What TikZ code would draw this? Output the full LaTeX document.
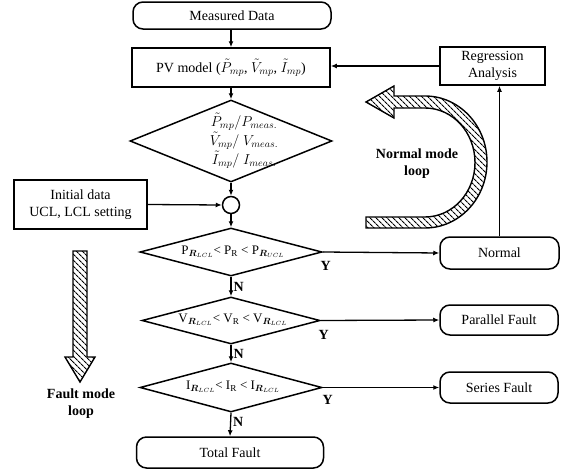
\documentclass[tikz,border=0pt]{standalone}
\usepackage{fontspec}
\setmainfont{Liberation Serif}
\usepackage{bm}
\usetikzlibrary{arrows.meta,shapes.geometric,patterns.meta}
\begin{document}
\begin{tikzpicture}[x=1pt,y=-1pt,
  txt/.style={font=\fontsize{14}{17}\selectfont, align=center},
  rbox/.style={draw, line width=1.5pt, rounded corners=10pt, inner sep=0pt, txt},
  sbox/.style={draw, line width=1.5pt, inner sep=0pt, txt},
  dia/.style={draw, diamond, line width=1.5pt, inner sep=0pt},
  arr/.style={-{Latex[length=6pt,width=5pt]}, line width=1.3pt},
  lbl/.style={font=\bfseries\fontsize{14}{17}\selectfont, align=center, inner sep=1pt},
  ylbl/.style={lbl, pos=0, anchor=north, xshift=3pt, yshift=-8pt},
  hatch/.style={draw, line width=1.4pt, pattern={Lines[angle=-45,distance=4pt,line width=1.1pt]}}
]
\useasboundingbox (0,0) rectangle (568,471);

% nodes
\node[rbox, minimum width=198pt, minimum height=27pt] (md) at (232,15.5) {Measured Data};
\node[sbox, minimum width=198pt, minimum height=39pt] (pv) at (231,67.5) {PV model ($\tilde{P}_{mp}$, $\tilde{V}_{mp}$, $\tilde{I}_{mp}$)};
\node[dia, minimum width=202pt, minimum height=82pt] (d1) at (231,141) {};
\node[font=\fontsize{14.5}{19}\selectfont, align=center] (d1t) at (244,141) {$\tilde{P}_{mp}/P_{meas.}$\\$\tilde{V}_{mp}/\ V_{meas.}$\\$\tilde{I}_{mp}/\ I_{meas.}$};
\node[draw, circle, line width=1.5pt, minimum size=17pt, inner sep=0pt] (c) at (231,205) {};
\node[sbox, minimum width=133pt, minimum height=49pt] (init) at (80.5,204.5) {Initial data\\UCL, LCL setting};
\node[dia, minimum width=182pt, minimum height=48pt] (d2) at (231,252) {};
\node[font=\fontsize{13}{15}\selectfont] (d2t) at (233,252) {P$_{\bm{R}_{LCL}}$< P$_{\mathrm{R}}$ < P$_{\bm{R}_{UCL}}$};
\node[dia, minimum width=178pt, minimum height=47pt] (d3) at (231,320.5) {};
\node[font=\fontsize{13}{15}\selectfont] (d3t) at (233,320) {V$_{\bm{R}_{LCL}}$< V$_{\mathrm{R}}$ < V$_{\bm{R}_{LCL}}$};
\node[dia, minimum width=182pt, minimum height=49pt] (d4) at (231,387.5) {};
\node[font=\fontsize{13}{15}\selectfont] (d4t) at (233,387) {I$_{\bm{R}_{LCL}}$< I$_{\mathrm{R}}$ < I$_{\bm{R}_{LCL}}$};
\node[rbox, minimum width=187pt, minimum height=31pt] (tf) at (230,452.5) {Total Fault};
\node[sbox, minimum width=105pt, minimum height=38pt] (reg) at (492.5,66) {Regression\\Analysis};
\node[rbox, minimum width=119pt, minimum height=32pt] (nor) at (499.5,253) {Normal};
\node[rbox, minimum width=118pt, minimum height=30pt] (par) at (499,320) {Parallel Fault};
\node[rbox, minimum width=118pt, minimum height=31pt] (ser) at (499,387.5) {Series Fault};

% connectors
\draw[arr] (pv.north |- md.south) -- (pv.north);
\draw[arr] (pv.south) -- (d1.north);
\draw[arr] (d1.south) -- (c.north);
\draw[arr] (c.south) -- (d2.north);
\draw[arr] (init.east) -- (c.west);
\draw[arr] (d2.south) -- node[lbl, right=1pt] {N} (d3.north);
\draw[arr] (d3.south) -- node[lbl, right=1pt] {N} (d4.north);
\draw[arr] (d4.south) -- node[lbl, right=1pt, yshift=3pt] {N} (tf.north);
\draw[arr] (d2.east) -- node[ylbl] {Y} (nor.west);
\draw[arr] (d3.east) -- node[ylbl] {Y} (par.west);
\draw[arr] (d4.east) -- node[ylbl, xshift=2pt, yshift=2pt] {Y} (ser.west);
\draw[arr] (nor.north) -- (nor.north |- reg.south);
\draw[arr] (reg.west) -- (reg.west -| pv.east);

% normal mode loop arrow
\draw[hatch] (366,228) -- (425,228)
  arc[start angle=90, end angle=-90, x radius=62, y radius=66]
  -- (394,96) -- (394,86) -- (366,102) -- (394,118) -- (394,108) -- (425,108)
  arc[start angle=-90, end angle=90, x radius=50, y radius=54.5]
  -- (366,217) -- cycle;
\node[lbl] (nml) at (417,164) {Normal mode\\loop};

% fault mode loop arrow
\draw[hatch] (73,251) -- (87,251) -- (87,357) -- (95,357) -- (80,382) -- (65,357) -- (73,357) -- cycle;
\node[lbl] (fml) at (81,404) {Fault mode\\loop};
\end{tikzpicture}
\end{document}
